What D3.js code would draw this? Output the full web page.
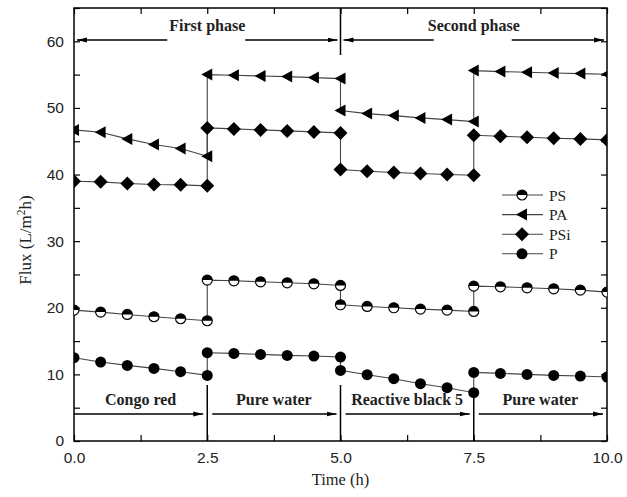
<!DOCTYPE html>
<html><head><meta charset="utf-8">
<script src="https://cdn.jsdelivr.net/npm/d3@7"></script>
<style>body{margin:0;background:#fff}</style>
</head><body>
<script>
const time = [0,0.5,1,1.5,2,2.5, 2.5,3,3.5,4,4.5,5, 5,5.5,6,6.5,7,7.5, 7.5,8,8.5,9,9.5,10];
const PS  = [19.65,19.35,19.0,18.65,18.35,18.05, 24.15,24.05,23.9,23.75,23.6,23.35, 20.45,20.2,20.0,19.8,19.65,19.45, 23.25,23.15,23.0,22.85,22.65,22.35];
const PA  = [46.7,46.35,45.35,44.5,43.9,42.75, 55.0,54.9,54.8,54.7,54.55,54.4, 49.6,49.15,48.85,48.5,48.25,47.95, 55.6,55.45,55.35,55.25,55.15,55.05];
const PSi = [39.0,38.9,38.65,38.5,38.45,38.3, 47.0,46.85,46.7,46.55,46.4,46.25, 40.75,40.5,40.3,40.15,40.0,39.9, 45.9,45.75,45.6,45.45,45.35,45.2];
const P   = [12.5,11.85,11.35,10.9,10.4,9.85, 13.25,13.15,13.0,12.85,12.75,12.6, 10.6,9.95,9.35,8.6,8.0,7.25, 10.3,10.15,10.0,9.85,9.75,9.6];
const seriesNames = ["PS","PA","PSi","P"];
const seriesData = [PS, PA, PSi, P];
const xTicks = [0,2.5,5,7.5,10];
const yTicks = [0,10,20,30,40,50,60];
const phases = ["First phase","Second phase"];
const phaseBounds = [[0,5],[5,10]];
const feeds = ["Congo red","Pure water","Reactive black 5","Pure water"];
const feedBounds = [[0,2.5],[2.5,5],[5,7.5],[7.5,10]];

const W = 627, H = 497;
const L = 74, R = 607, T = 8, B = 441;
const svg = d3.select("body").append("svg").attr("width", W).attr("height", H);
const x = d3.scaleLinear().domain([0,10]).range([L,R]);
const y = d3.scaleLinear().domain([0,65]).range([B,T]);

const defs = svg.append("defs");
defs.append("clipPath").attr("id","clip").append("rect")
  .attr("x",L).attr("y",T).attr("width",R-L).attr("height",B-T);
defs.append("marker").attr("id","ah").attr("viewBox","0 0 10 6").attr("refX",10).attr("refY",3)
  .attr("markerWidth",10).attr("markerHeight",6).attr("markerUnits","userSpaceOnUse").attr("orient","auto")
  .append("path").attr("d","M0,0.6L10,3L0,5.4Z").attr("fill","#000");

// axes with inward ticks
const tickFont = "'Liberation Sans', Arial, sans-serif";
function styleAxis(g){ g.select(".domain").remove(); g.selectAll("line").attr("stroke","#000").attr("stroke-width",1.2); }
const xMinor = d3.range(0,10.01,1.25);
const yMinor = d3.range(0,65.01,5);
svg.append("g").attr("transform",`translate(0,${B})`)
  .call(d3.axisBottom(x).tickValues(xMinor).tickSize(-6).tickFormat(d => xTicks.includes(d) ? d3.format(".1f")(d) : "").tickPadding(11))
  .call(styleAxis).selectAll("text").attr("font-family",tickFont).attr("font-size",15.5).attr("fill","#222");
svg.append("g").attr("transform",`translate(0,${T})`)
  .call(d3.axisTop(x).tickValues(xMinor).tickSize(-6).tickFormat(""))
  .call(styleAxis);
svg.append("g").attr("transform",`translate(${L},0)`)
  .call(d3.axisLeft(y).tickValues(yMinor).tickSize(-6).tickFormat(d => yTicks.includes(d) ? d : "").tickPadding(10))
  .call(styleAxis).selectAll("text").attr("font-family",tickFont).attr("font-size",15.5).attr("fill","#222");
svg.append("g").attr("transform",`translate(${R},0)`)
  .call(d3.axisRight(y).tickValues(yMinor).tickSize(-6).tickFormat(""))
  .call(styleAxis);
svg.append("rect").attr("x",L).attr("y",T).attr("width",R-L).attr("height",B-T)
  .attr("fill","none").attr("stroke","#000").attr("stroke-width",1.5);

// axis titles
const serif = "'Liberation Serif', 'Times New Roman', serif";
svg.append("text").attr("x",(L+R)/2).attr("y",485).attr("text-anchor","middle")
  .attr("font-family",serif).attr("font-size",16.5).attr("fill","#222").text("Time (h)");
const yl = svg.append("text").attr("transform",`translate(31,240) rotate(-90)`).attr("text-anchor","middle")
  .attr("font-family",serif).attr("font-size",17).attr("fill","#222");
yl.append("tspan").text("Flux (L/m");
yl.append("tspan").attr("dy",-6).attr("font-size",11.5).text("2");
yl.append("tspan").attr("dy",6).text("h)");

// markers
function drawMarker(g, name, cx, cy){
  if(name==="PS"){
    g.append("circle").attr("cx",cx).attr("cy",cy).attr("r",5).attr("fill","#fff").attr("stroke","#000").attr("stroke-width",1.2);
    g.append("path").attr("d",`M${cx-5},${cy}A5,5 0 0 1 ${cx+5},${cy}Z`).attr("fill","#000");
  } else if(name==="PA"){
    g.append("path").attr("d",`M${cx-6},${cy}L${cx+5},${cy-6}L${cx+5},${cy+6}Z`).attr("fill","#000");
  } else if(name==="PSi"){
    g.append("path").attr("d",`M${cx},${cy-7}L${cx+7},${cy}L${cx},${cy+7}L${cx-7},${cy}Z`).attr("fill","#000");
  } else {
    g.append("circle").attr("cx",cx).attr("cy",cy).attr("r",5.5).attr("fill","#000");
  }
}

const plot = svg.append("g").attr("clip-path","url(#clip)");
const line = d3.line().x((d,i)=>x(time[i])).y(d=>y(d));
seriesData.forEach((vals,si)=>{
  plot.append("path").attr("d",line(vals)).attr("fill","none").attr("stroke","#444").attr("stroke-width",1.1);
});
seriesData.forEach((vals,si)=>{
  const g = plot.append("g");
  vals.forEach((v,i)=>drawMarker(g, seriesNames[si], x(time[i]), y(v)));
});

// legend
const lg = svg.append("g");
seriesNames.forEach((n,i)=>{
  const ly = 195 + i*19.6;
  lg.append("line").attr("x1",502).attr("x2",543).attr("y1",ly).attr("y2",ly).attr("stroke","#444").attr("stroke-width",1.1);
  drawMarker(lg, n, 522, ly);
  lg.append("text").attr("x",549).attr("y",ly+5.5).attr("font-family",serif).attr("font-size",15.5).attr("fill","#222").text(n);
});

// phase annotations (top)
svg.append("line").attr("x1",x(5)).attr("x2",x(5)).attr("y1",T).attr("y2",55).attr("stroke","#000").attr("stroke-width",1.5);
const arrowY = 40;
phases.forEach((p,i)=>{
  const [a,b] = phaseBounds[i];
  const cx = (x(a)+x(b))/2;
  svg.append("text").attr("x",cx).attr("y",31).attr("text-anchor","middle")
    .attr("font-family",serif).attr("font-weight","bold").attr("font-size",16).attr("fill","#222").text(p);
  svg.append("line").attr("x1",cx-40).attr("x2",x(a)+3).attr("y1",arrowY).attr("y2",arrowY)
    .attr("stroke","#000").attr("stroke-width",1.5).attr("marker-end","url(#ah)");
  svg.append("line").attr("x1",cx+38).attr("x2",x(b)-3).attr("y1",arrowY).attr("y2",arrowY)
    .attr("stroke","#000").attr("stroke-width",1.5).attr("marker-end","url(#ah)");
});

// feed annotations (bottom)
[2.5,5,7.5].forEach(t=>{
  svg.append("line").attr("x1",x(t)).attr("x2",x(t)).attr("y1",t===7.5?392:385).attr("y2",B).attr("stroke","#000").attr("stroke-width",1.5);
});
feeds.forEach((f,i)=>{
  const [a,b] = feedBounds[i];
  const cx = (x(a)+x(b))/2;
  svg.append("text").attr("x",cx).attr("y",405).attr("text-anchor","middle")
    .attr("font-family",serif).attr("font-weight","bold").attr("font-size",16).attr("fill","#222").text(f);
  svg.append("line").attr("x1",x(a)+(i===0?0:5)).attr("x2",x(b)-4).attr("y1",414).attr("y2",414)
    .attr("stroke","#000").attr("stroke-width",1.5).attr("marker-end","url(#ah)");
});
</script>
</body></html>
